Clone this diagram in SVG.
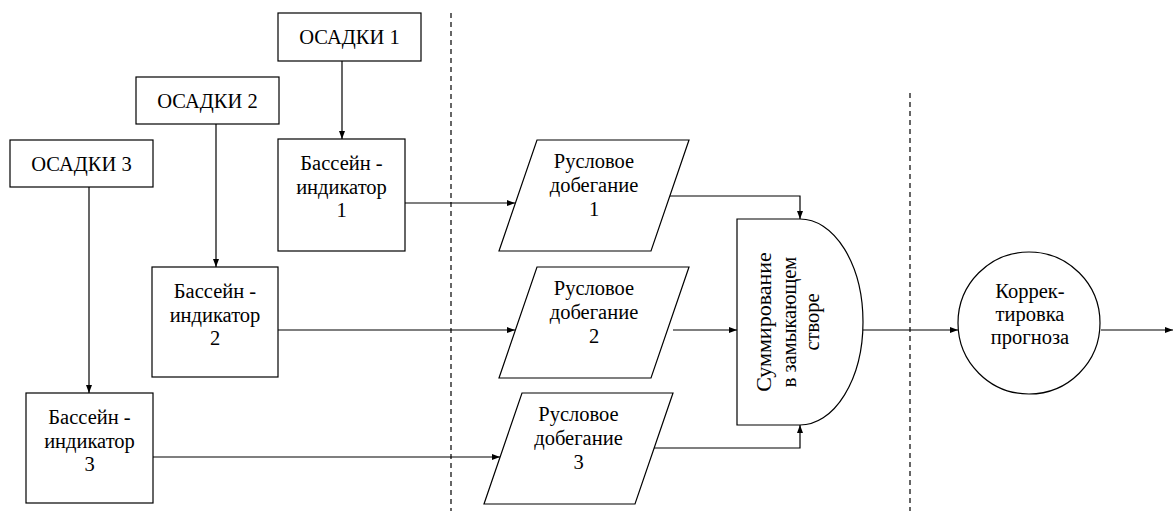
<svg xmlns="http://www.w3.org/2000/svg" width="1173" height="513" viewBox="0 0 1173 513" font-family="'Liberation Serif', 'Times New Roman', serif">
<style>
.s{fill:#fff;stroke:#000;stroke-width:1.2}
.c{fill:none;stroke:#000;stroke-width:1.2}
.d{fill:none;stroke:#000;stroke-width:1.2;stroke-dasharray:5,4}
text{font-family:'Liberation Serif','Times New Roman',serif;font-size:20.5px;fill:#000;text-anchor:middle}
</style>
<defs>
<marker id="a" markerWidth="9" markerHeight="7" refX="8" refY="3" orient="auto" markerUnits="userSpaceOnUse">
<path d="M0,0 L8,3 L0,6 z" fill="#000"/>
</marker>
</defs>
<g id="separators">
<line class="d" x1="451" y1="13" x2="451" y2="511"/>
<line class="d" x1="910" y1="93" x2="910" y2="511"/>
</g>
<g id="connectors">
<line class="c" x1="342" y1="61" x2="342" y2="139" marker-end="url(#a)"/>
<line class="c" x1="216" y1="124" x2="216" y2="267" marker-end="url(#a)"/>
<line class="c" x1="89" y1="187" x2="89" y2="393" marker-end="url(#a)"/>
<line class="c" x1="405" y1="203" x2="515" y2="203" marker-end="url(#a)"/>
<line class="c" x1="278" y1="330" x2="515" y2="330" marker-end="url(#a)"/>
<line class="c" x1="153" y1="457" x2="500" y2="457" marker-end="url(#a)"/>
<polyline class="c" points="670,196 800,196 800,219" marker-end="url(#a)"/>
<line class="c" x1="673" y1="330" x2="737" y2="330" marker-end="url(#a)"/>
<polyline class="c" points="654,448 800,448 800,425" marker-end="url(#a)"/>
<line class="c" x1="863" y1="330" x2="958" y2="330" marker-end="url(#a)"/>
<line class="c" x1="1101" y1="330" x2="1173" y2="330" marker-end="url(#a)"/>
</g>
<g id="osadki1">
<rect class="s" x="278" y="13" width="143" height="48"/>
<text x="349.5" y="44">ОСАДКИ 1</text>
</g>
<g id="osadki2">
<rect class="s" x="136" y="77" width="143" height="47"/>
<text x="207.5" y="108">ОСАДКИ 2</text>
</g>
<g id="osadki3">
<rect class="s" x="10" y="140" width="143" height="47"/>
<text x="81.5" y="171">ОСАДКИ 3</text>
</g>
<g id="basin1">
<rect class="s" x="278" y="139" width="127" height="112"/>
<text x="341.5" y="170">Бассейн -</text>
<text x="341.5" y="194">индикатор</text>
<text x="341.5" y="217">1</text>
</g>
<g id="basin2">
<rect class="s" x="152" y="267" width="126" height="110"/>
<text x="215" y="298">Бассейн -</text>
<text x="215" y="322">индикатор</text>
<text x="215" y="345">2</text>
</g>
<g id="basin3">
<rect class="s" x="26" y="393" width="127" height="110"/>
<text x="89.5" y="424">Бассейн -</text>
<text x="89.5" y="448">индикатор</text>
<text x="89.5" y="471">3</text>
</g>
<g id="channel1">
<polygon class="s" points="537,140 689,140 651,251 499,251"/>
<text x="594" y="168">Русловое</text>
<text x="594" y="192">добегание</text>
<text x="594" y="216">1</text>
</g>
<g id="channel2">
<polygon class="s" points="537,267 689,267 651,378 499,378"/>
<text x="594" y="295">Русловое</text>
<text x="594" y="319">добегание</text>
<text x="594" y="343">2</text>
</g>
<g id="channel3">
<polygon class="s" points="522,393 673,393 635,504 484,504"/>
<text x="578.5" y="421">Русловое</text>
<text x="578.5" y="445">добегание</text>
<text x="578.5" y="469">3</text>
</g>
<g id="summation">
<path class="s" d="M737,219 L800,219 A63,103 0 0 1 800,425 L737,425 Z"/>
<g transform="translate(788,322) rotate(-90)">
<text x="0" y="-17" style="font-size:22px">Суммирование</text>
<text x="0" y="8">в замыкающем</text>
<text x="0" y="31">створе</text>
</g>
</g>
<g id="correction">
<circle class="s" cx="1029" cy="323" r="71"/>
<text x="1030" y="298">Коррек-</text>
<text x="1030" y="321">тировка</text>
<text x="1030" y="344">прогноза</text>
</g>
</svg>
